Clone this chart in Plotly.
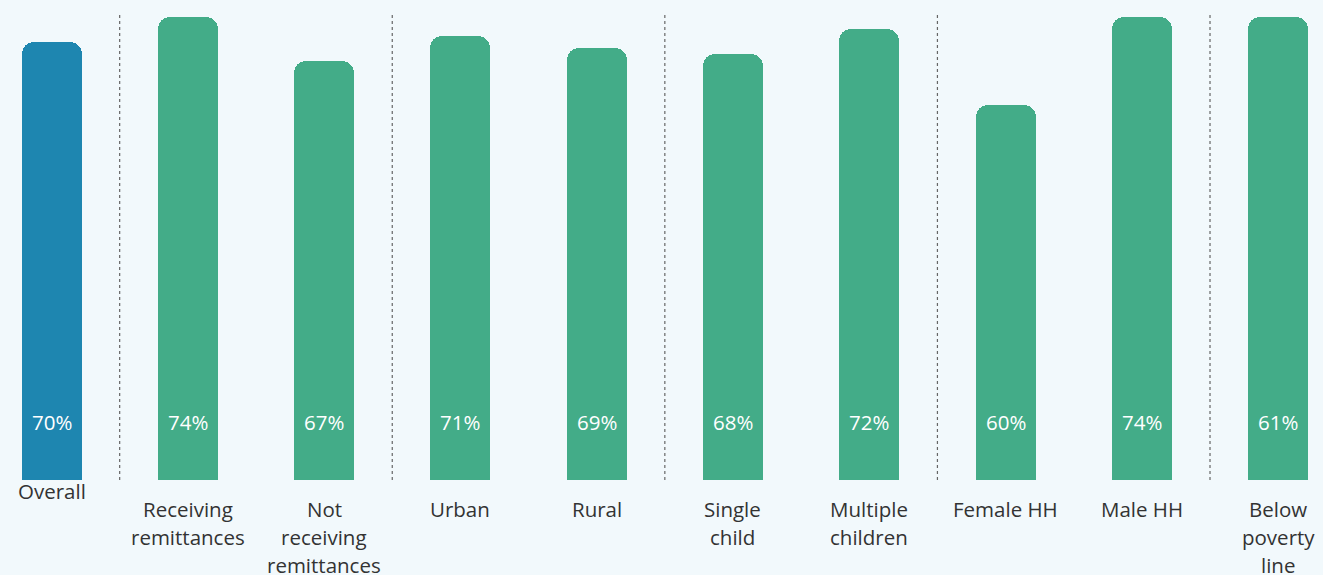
import plotly.graph_objects as go

categories = ["Overall", "Receiving<br>remittances", "Not<br>receiving<br>remittances", "Urban", "Rural",
              "Single<br>child", "Multiple<br>children", "Female HH", "Male HH", "Below<br>poverty<br>line"]
bar_heights = [70, 74, 67, 71, 69, 68, 72, 60, 74, 74]
value_labels = ["70%", "74%", "67%", "71%", "69%", "68%", "72%", "60%", "74%", "61%"]
bar_colors = ["#1E86B0"] + ["#43AC88"] * 9
group_separators = [0.5, 2.5, 4.5, 6.5, 8.5]

xs = list(range(len(categories)))

fig = go.Figure()
fig.add_trace(go.Bar(
    x=xs, y=bar_heights,
    marker=dict(color=bar_colors, cornerradius=12, line=dict(width=0)),
    width=0.44, hoverinfo="skip", showlegend=False,
))

BG = "#F2F9FC"
annotations = []
for i, (cat, lab) in enumerate(zip(categories, value_labels)):
    annotations.append(dict(
        x=i, y=0, xref="x", yref="y", text=lab, showarrow=False,
        yanchor="middle", yshift=58,
        font=dict(family="Open Sans", size=20.5, color="#FFFFFF"),
    ))
    first = -11 if i == 0 else -29
    for k, line in enumerate(cat.split("<br>")):
        annotations.append(dict(
            x=i, y=0, xref="x", yref="y", text=line, showarrow=False,
            yanchor="middle", yshift=first - 28 * k,
            font=dict(family="Open Sans", size=20.5, color="#333333"),
        ))

shapes = []
for s in group_separators:
    shapes.append(dict(
        type="line", xref="x", yref="y", x0=s, x1=s, y0=0, y1=74.5,
        line=dict(color="#666666", width=1.2, dash="dot"), layer="below",
    ))

fig.update_layout(
    width=1323, height=575,
    margin=dict(l=0, r=0, t=0, b=95),
    paper_bgcolor=BG, plot_bgcolor=BG,
    xaxis=dict(range=[-0.378, 9.329], showticklabels=False, showgrid=False, zeroline=False, fixedrange=True),
    yaxis=dict(range=[0, 76.7], showticklabels=False, showgrid=False, zeroline=False, fixedrange=True),
    annotations=annotations, shapes=shapes,
    bargap=0,
)

fig.write_html("out.html", config={"displayModeBar": False},
               post_script="document.body.style.margin='0';document.body.style.overflow='hidden';")
